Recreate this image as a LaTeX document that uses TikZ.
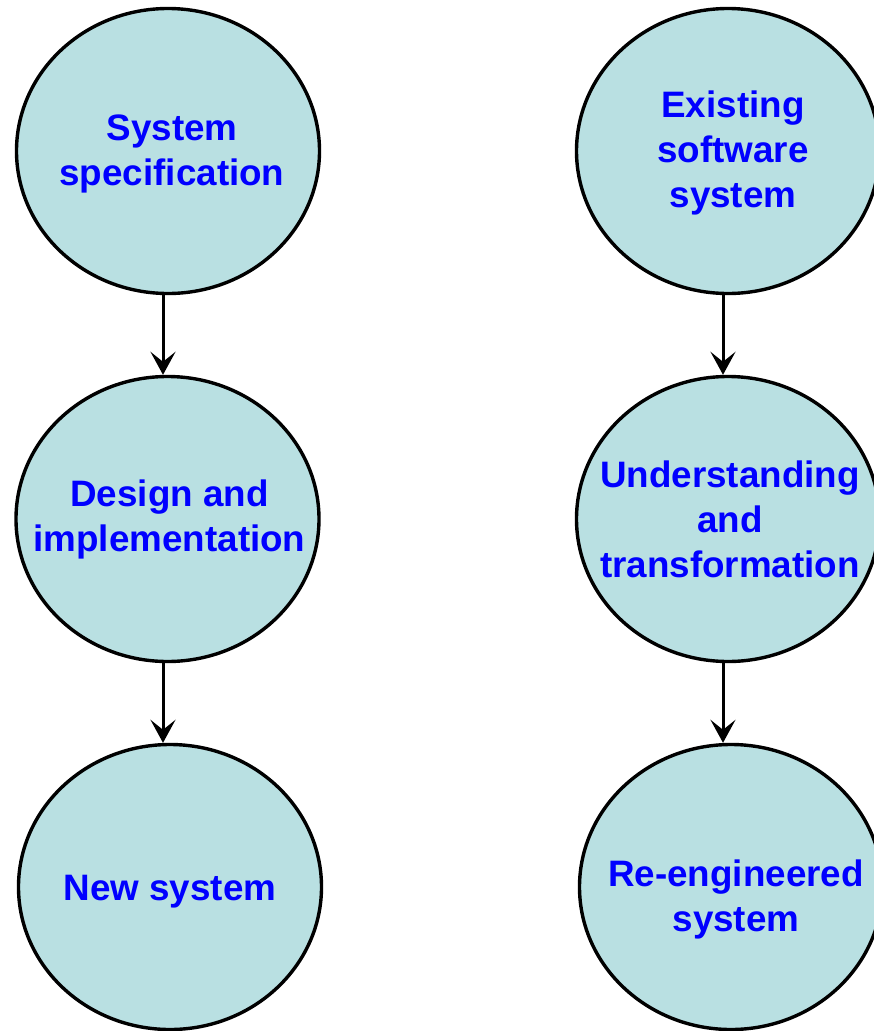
\documentclass[tikz,border=0pt]{standalone}
\usepackage{fontspec}
\setmainfont{Liberation Sans}
\usetikzlibrary{arrows.meta,shapes.geometric}
\definecolor{bubblefill}{RGB}{185,224,226}
\definecolor{bubbletext}{RGB}{0,0,255}
\tikzset{
  bubble/.style={ellipse, draw=black, line width=3.4pt, fill=bubblefill,
    minimum width=303pt, minimum height=285pt, inner sep=0pt},
  btext/.style={align=center, inner sep=0pt,
    text=bubbletext, font=\fontsize{36.8}{45}\selectfont\bfseries},
  flow/.style={line width=3pt, draw=black,
    -{Stealth[length=23pt,width=25pt,inset=10pt]}}
}
\begin{document}
\begin{tikzpicture}[x=1pt,y=1pt]
\useasboundingbox (0,0) rectangle (874,-1031);
\node[bubble] (L1) at (168,-151) {};
\node[bubble] (L2) at (167.5,-519) {};
\node[bubble] (L3) at (170,-887) {};
\node[bubble] (R1) at (728,-151) {};
\node[bubble] (R2) at (728,-519) {};
\node[bubble] (R3) at (731,-887) {};
\node[btext] (L1t) at ([xshift=4pt,yshift=-3pt]L1.center) {System\\specification};
\node[btext] (L2t) at ([xshift=2pt]L2.center) {Design and\\implementation};
\node[btext] (L3t) at ([yshift=-5pt]L3.center) {New system};
\node[btext] (R1t) at ([xshift=5pt,yshift=-2pt]R1.center) {Existing\\software\\system};
\node[btext] (R2t) at ([xshift=2pt]R2.center) {Understanding\\and\\transformation};
\node[btext] (R3t) at ([xshift=5pt,yshift=-12pt]R3.center) {Re-engineered\\system};
\draw[flow] ([xshift=-5pt]L1.south) -- ([xshift=-4.5pt]L2.north);
\draw[flow] ([xshift=-4.5pt]L2.south) -- ([xshift=-7pt]L3.north);
\draw[flow] ([xshift=-5pt]R1.south) -- ([xshift=-5pt]R2.north);
\draw[flow] ([xshift=-5pt]R2.south) -- ([xshift=-8pt]R3.north);
\end{tikzpicture}
\end{document}
